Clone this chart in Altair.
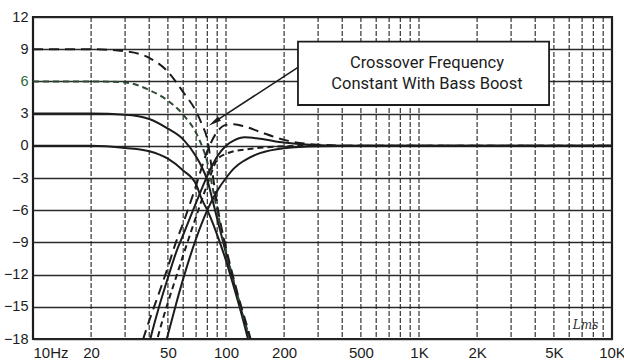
import altair as alt
import pandas as pd

# ---- data ----
lp_freq = [10, 20, 30, 40, 50, 60, 70, 75, 80, 85, 90, 100, 110, 120, 130, 140]
lp0 = [0, 0, -0.2, -0.5, -1.2, -2.3, -3.6, -5.0, -6.0, -7.1, -8.3, -10.7, -13.2, -15.6, -18.0, -20.3]
lp3 = [3, 3, 2.9, 2.5, 1.6, 0.6, -1.0, -2.0, -3.2, -5.0, -6.8, -10.0, -12.8, -15.3, -17.7, -20.0]
lp6 = [6, 6, 5.9, 5.2, 4.2, 2.9, 1.2, 0.0, -1.5, -3.8, -6.0, -9.8, -12.7, -15.2, -17.4, -19.6]
lp9 = [9, 9, 8.8, 8.2, 6.9, 5.0, 3.2, 2.0, 0.6, -2.5, -5.5, -9.5, -12.5, -15.0, -17.1, -19.3]

hp_freq = [35, 40, 45, 50, 55, 60, 70, 80, 90, 100, 110, 125, 150, 200, 300, 500, 1000, 10000]
hp_a = [-29, -24.6, -20.8, -17.6, -14.8, -12.4, -8.65, -6.0, -4.2, -3.0, -2.1, -1.35, -0.68, -0.22, -0.04, 0, 0, 0]
hp_b = [-26, -21, -17.4, -14.6, -12.3, -10.2, -6.6, -3.6, -1.3, -0.75, -0.5, -0.35, -0.18, -0.05, 0, 0, 0, 0]
hp_c = [-23, -18.4, -15.0, -12.3, -10.0, -8.3, -5.3, -2.8, -1.0, 0.0, 0.5, 0.8, 0.65, 0.3, 0.05, 0, 0, 0]
hp_d = [-19.5, -16.3, -13.7, -11.3, -9.0, -7.2, -3.7, -0.5, 1.3, 1.95, 2.0, 1.8, 1.3, 0.55, 0.1, 0, 0, 0]

x_label_values = [10, 20, 50, 100, 200, 500, 1000, 2000, 5000, 10000]
y_values = [-18, -15, -12, -9, -6, -3, 0, 3, 6, 9, 12]
grid_freqs = [20, 30, 40, 50, 60, 70, 80, 90, 100,
              200, 300, 400, 500, 600, 700, 800, 900, 1000,
              2000, 3000, 4000, 5000, 6000, 7000, 8000, 9000]

note_lines = ["Crossover Frequency", "Constant With Bass Boost"]
note_f = [1100, 1100]
note_db = [7.75, 5.8]
box_f = [236, 4720]
box_db = [3.8, 9.7]
arrow_f = [236, 86.7]
arrow_db = [7.3, 2.2]
logo = ["Lms"]
logo_f = [7300]
logo_db = [-16.7]

INK = "#1c1c1c"

xscale = alt.Scale(type="log", domain=[10, 10000], nice=False)
yscale = alt.Scale(domain=[-18, 12], nice=False)

x_axis = alt.Axis(
    values=x_label_values,
    labelExpr="datum.value == 10 ? '10Hz' : (datum.value >= 1000 ? (datum.value/1000) + 'K' : datum.value)",
    labelAlign={"condition": {"test": "datum.value == 10", "value": "left"}, "value": "center"},
    grid=False, ticks=False, domain=False, labelPadding=6, title=None,
    labelFontSize=15, labelFont="Liberation Sans", labelColor=INK, labelOverlap=False, labelFlush=False,
)
y_axis = alt.Axis(
    values=y_values, grid=True, gridColor="#2a2a2a", gridWidth=1.3,
    ticks=False, domain=False, labelPadding=5, title=None, labelOverlap=False,
    labelFontSize=14.5, labelFont="Liberation Sans",
    labelColor={"condition": {"test": "datum.value == 6", "value": "#2f6b38"}, "value": INK},
)

X = lambda field: alt.X(field, scale=xscale, axis=x_axis)
Y = lambda field: alt.Y(field, scale=yscale, axis=y_axis)

def curve(freqs, vals, dash=None, color=INK):
    df = pd.DataFrame({"f": freqs, "db": vals})
    kw = dict(clip=True, color=color, strokeWidth=2, interpolate="monotone")
    if dash:
        kw["strokeDash"] = dash
    return alt.Chart(df).mark_line(**kw).encode(x=X("f:Q"), y=Y("db:Q"))

vgrid = alt.Chart(pd.DataFrame({"f": grid_freqs})).mark_rule(
    color="#222", strokeWidth=1.1, strokeDash=[5, 2]
).encode(x=X("f:Q"))

layers = [
    vgrid,
    curve(lp_freq, lp0),
    curve(lp_freq, lp3),
    curve(lp_freq, lp6, [6, 4], "#2e4a33"),
    curve(lp_freq, lp9, [10, 6]),
    curve(hp_freq, hp_a),
    curve(hp_freq, hp_b, [6, 4]),
    curve(hp_freq, hp_c),
    curve(hp_freq, hp_d, [10, 6]),
]

box = alt.Chart(pd.DataFrame({"f1": [box_f[0]], "f2": [box_f[1]], "d1": [box_db[0]], "d2": [box_db[1]]})).mark_rect(
    fill="white", stroke=INK, strokeWidth=1.8
).encode(x=X("f1:Q"), x2="f2:Q", y=Y("d1:Q"), y2="d2:Q")

note = alt.Chart(pd.DataFrame({"t": note_lines, "f": note_f, "db": note_db})).mark_text(
    font="Roboto", fontSize=16.5, color=INK, align="center", baseline="middle"
).encode(x=X("f:Q"), y=Y("db:Q"), text="t:N")

arrow_line = alt.Chart(pd.DataFrame({"f": arrow_f, "db": arrow_db})).mark_line(
    color=INK, strokeWidth=1.6
).encode(x=X("f:Q"), y=Y("db:Q"))

arrow_head = alt.Chart(pd.DataFrame({"f": [arrow_f[1]], "db": [arrow_db[1]]})).mark_point(
    shape="M0,-1 L0.38,1 L-0.38,1 Z", filled=True, color=INK, opacity=1, size=170, angle=237
).encode(x=X("f:Q"), y=Y("db:Q"))

logo_txt = alt.Chart(pd.DataFrame({"t": logo, "f": logo_f, "db": logo_db})).mark_text(
    font="DejaVu Serif", fontStyle="italic", fontSize=12, color="#333", align="center", baseline="middle"
).encode(x=X("f:Q"), y=Y("db:Q"), text="t:N")

chart = alt.layer(*layers, box, note, arrow_line, arrow_head, logo_txt).properties(
    width=579, height=322,
    autosize=alt.AutoSizeParams(type="none"),
    padding={"left": 33, "top": 17, "right": 12, "bottom": 25},
    background="white",
).configure_view(stroke=INK, strokeWidth=2.2)

chart.save("out.html", embed_options={"renderer": "svg", "actions": False})
